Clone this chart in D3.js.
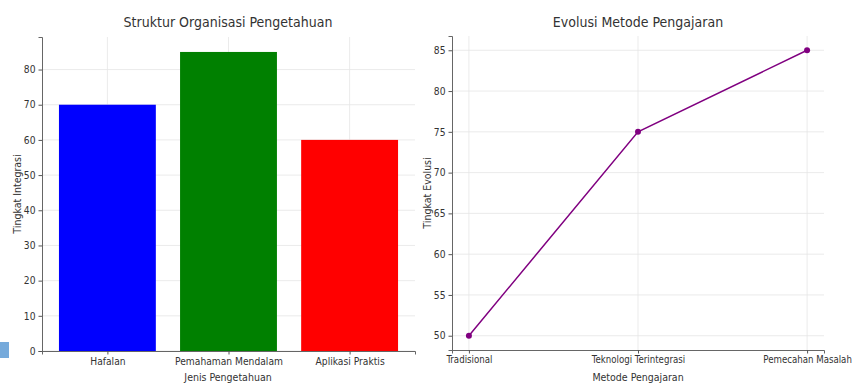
<!DOCTYPE html>
<html>
<head>
<meta charset="utf-8">
<script src="https://cdn.jsdelivr.net/npm/d3@7"></script>
<style>
  body { margin: 0; background: #fff; }
  svg text { font-family: "DejaVu Sans Condensed", "DejaVu Sans", sans-serif; font-stretch: condensed; fill: #333; }
</style>
</head>
<body>
<svg width="853" height="383"></svg>
<script>
// bar chart data
var jenis = ["Hafalan", "Pemahaman Mendalam", "Aplikasi Praktis"];
var integrasi = [70, 85, 60];
var barColors = ["#0000ff", "#008000", "#ff0000"];
var integrasiTicks = [0, 10, 20, 30, 40, 50, 60, 70, 80];

// line chart data
var metode = ["Tradisional", "Teknologi Terintegrasi", "Pemecahan Masalah"];
var evolusi = [50, 75, 85];
var evolusiTicks = [50, 55, 60, 65, 70, 75, 80, 85];

var svg = d3.select("svg");
var gridColor = "#e6e6e6";

// ---- left: bars ----
var x1 = d3.scaleLinear().domain([-0.54, 2.54]).range([42, 415]);
var y1 = d3.scaleLinear().domain([0, 89.25]).range([351, 37]);
var g1 = svg.append("g");

g1.selectAll(".hgrid").data(integrasiTicks).enter().append("line")
  .attr("x1", 42).attr("x2", 415)
  .attr("y1", d => y1(d)).attr("y2", d => y1(d))
  .attr("stroke", gridColor).attr("stroke-width", 0.8);
g1.selectAll(".vgrid").data(jenis).enter().append("line")
  .attr("x1", (d, i) => x1(i)).attr("x2", (d, i) => x1(i))
  .attr("y1", 37).attr("y2", 351)
  .attr("stroke", gridColor).attr("stroke-width", 0.8);

g1.selectAll("rect.bar").data(integrasi).enter().append("rect")
  .attr("class", "bar")
  .attr("x", (d, i) => x1(i - 0.4))
  .attr("width", x1(0.4) - x1(-0.4))
  .attr("y", d => y1(d))
  .attr("height", d => y1(0) - y1(d))
  .attr("fill", (d, i) => barColors[i]);

var ax1 = g1.append("g").attr("transform", "translate(42,0)")
  .call(d3.axisLeft(y1).tickValues(integrasiTicks).tickSize(3.5).tickPadding(3));
var bx1 = g1.append("g").attr("transform", "translate(0,351)")
  .call(d3.axisBottom(x1).tickValues([0, 1, 2]).tickFormat(i => jenis[i]).tickSize(3.5).tickPadding(3));
[ax1, bx1].forEach(a => {
  a.select(".domain").attr("stroke", "#555").attr("stroke-width", 0.9);
  a.selectAll(".tick line").attr("stroke", "#555");
  a.selectAll("text").style("font-size", "10.2px").attr("fill", "#3a3a3a");
});

svg.append("text").attr("x", 228).attr("y", 27).attr("text-anchor", "middle")
  .style("font-size", "14px").text("Struktur Organisasi Pengetahuan");
svg.append("text").attr("x", 228).attr("y", 381).attr("text-anchor", "middle")
  .style("font-size", "10.5px").text("Jenis Pengetahuan");
svg.append("text").attr("transform", "translate(21,194) rotate(-90)").attr("text-anchor", "middle")
  .style("font-size", "10.5px").text("Tingkat Integrasi");

// ---- right: line ----
var x2 = d3.scaleLinear().domain([-0.1, 2.1]).range([452, 824]);
var y2 = d3.scaleLinear().domain([48.25, 86.75]).range([350, 36]);
var g2 = svg.append("g");

g2.selectAll(".hgrid").data(evolusiTicks).enter().append("line")
  .attr("x1", 452).attr("x2", 824)
  .attr("y1", d => y2(d)).attr("y2", d => y2(d))
  .attr("stroke", gridColor).attr("stroke-width", 0.8);
g2.selectAll(".vgrid").data(metode).enter().append("line")
  .attr("x1", (d, i) => x2(i)).attr("x2", (d, i) => x2(i))
  .attr("y1", 36).attr("y2", 350)
  .attr("stroke", gridColor).attr("stroke-width", 0.8);

var line = d3.line().x((d, i) => x2(i)).y(d => y2(d));
g2.append("path").datum(evolusi)
  .attr("fill", "none").attr("stroke", "#800080").attr("stroke-width", 1.5)
  .attr("d", line);
g2.selectAll("circle").data(evolusi).enter().append("circle")
  .attr("cx", (d, i) => x2(i)).attr("cy", d => y2(d)).attr("r", 3)
  .attr("fill", "#800080");

var ax2 = g2.append("g").attr("transform", "translate(452,0)")
  .call(d3.axisLeft(y2).tickValues(evolusiTicks).tickSize(3.5).tickPadding(3));
var bx2 = g2.append("g").attr("transform", "translate(0,350)")
  .call(d3.axisBottom(x2).tickValues([0, 1, 2]).tickFormat(i => metode[i]).tickSize(3.5).tickPadding(3));
[ax2, bx2].forEach(a => {
  a.select(".domain").attr("stroke", "#555").attr("stroke-width", 0.9);
  a.selectAll(".tick line").attr("stroke", "#555");
  a.selectAll("text").style("font-size", "10.2px").attr("fill", "#3a3a3a");
});
// keep the last label inside the page
bx2.selectAll(".tick text").style("font-size", "9.6px");

svg.append("text").attr("x", 638).attr("y", 27).attr("text-anchor", "middle")
  .style("font-size", "14px").text("Evolusi Metode Pengajaran");
svg.append("text").attr("x", 638).attr("y", 381).attr("text-anchor", "middle")
  .style("font-size", "10.5px").text("Metode Pengajaran");
svg.append("text").attr("transform", "translate(431,193) rotate(-90)").attr("text-anchor", "middle")
  .style("font-size", "10.5px").text("Tingkat Evolusi");

// small marker square at bottom-left edge
svg.append("rect").attr("x", 0).attr("y", 342).attr("width", 9).attr("height", 16).attr("fill", "#76aadb");
</script>
</body>
</html>
